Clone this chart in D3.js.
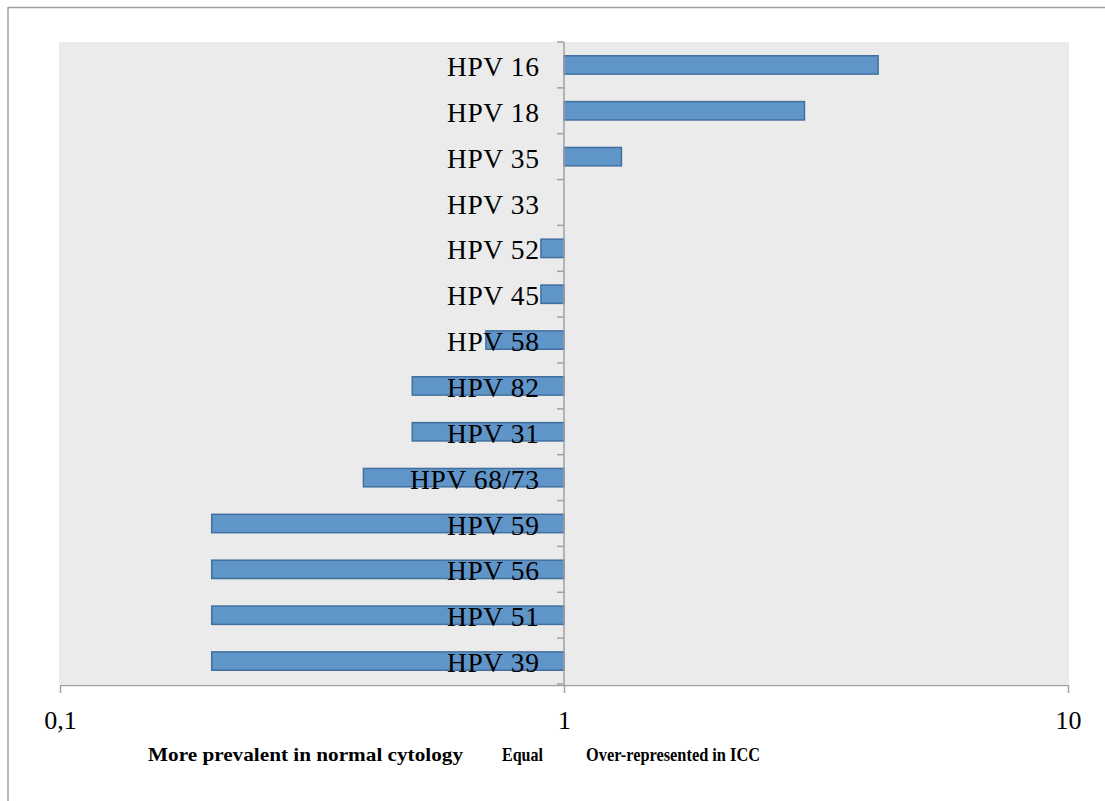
<!DOCTYPE html>
<html><head><meta charset="utf-8">
<script src="https://cdn.jsdelivr.net/npm/d3@7"></script>
<style>body{margin:0;background:#fff;} svg{display:block;}</style>
</head><body>
<script>
const categories = ["HPV 16","HPV 18","HPV 35","HPV 33","HPV 52","HPV 45","HPV 58","HPV 82","HPV 31","HPV 68/73","HPV 59","HPV 56","HPV 51","HPV 39"];
const values = [4.2, 3.0, 1.3, 1.0, 0.9, 0.9, 0.7, 0.5, 0.5, 0.4, 0.2, 0.2, 0.2, 0.2];
const tickValues = [0.1, 1, 10];
const tickLabels = ["0,1", "1", "10"];
const bottomLabels = ["More prevalent in normal cytology", "Equal", "Over-represented in ICC"];

(function () {
const W = 1105, H = 801;
const svg = d3.select("body").append("svg").attr("width", W).attr("height", H);

// outer frame (top and left edges visible)
svg.append("line").attr("x1", 8).attr("x2", W).attr("y1", 7.5).attr("y2", 7.5).attr("stroke", "#a0a0a0").attr("stroke-width", 1.5);
svg.append("line").attr("x1", 8).attr("x2", 8).attr("y1", 7).attr("y2", H).attr("stroke", "#a0a0a0").attr("stroke-width", 1.5);

const pl = 60, pr = 1068, pt = 42, pb = 684;
svg.append("rect").attr("x", 59).attr("y", pt).attr("width", 1069 - 59).attr("height", pb - pt).attr("fill", "#ebebeb");

const x = d3.scaleLog().domain([0.1, 10]).range([pl, pr]);
const y = d3.scaleBand().domain(categories).range([pt, pb]).paddingInner(0.6).paddingOuter(0.3);
const yb = d3.scaleBand().domain(categories).range([pt, pb]);

// bars
svg.append("g").selectAll("rect").data(categories).join("rect")
  .attr("x", (d, i) => Math.min(x(values[i]), x(1)))
  .attr("y", d => y(d))
  .attr("width", (d, i) => Math.abs(x(values[i]) - x(1)))
  .attr("height", y.bandwidth())
  .attr("fill", "#6095c9")
  .attr("stroke", "#41709f")
  .attr("stroke-width", 1.5)
  .attr("display", (d, i) => values[i] === 1 ? "none" : null);

// y axis (category ticks at band boundaries)
const ya = svg.append("g");
ya.append("line").attr("x1", x(1)).attr("x2", x(1)).attr("y1", pt).attr("y2", pb + 1).attr("stroke", "#a0a0a0").attr("stroke-width", 1.5);
const bounds = categories.map(c => yb(c)).concat([pb]);
ya.selectAll("line.t").data(bounds).join("line").attr("class", "t")
  .attr("x1", x(1) - 7).attr("x2", x(1)).attr("y1", d => d).attr("y2", d => d)
  .attr("stroke", "#a0a0a0").attr("stroke-width", 1.5);

// category labels
svg.append("g").selectAll("text").data(categories).join("text")
  .attr("x", 539.5).attr("y", d => yb(d) + yb.bandwidth() / 2 + 11)
  .attr("text-anchor", "end")
  .attr("font-family", "Liberation Serif, serif")
  .attr("font-size", 27.5)
  .attr("letter-spacing", 0.6)
  .attr("fill", "#000")
  .text(d => d);

// x axis
const xa = svg.append("g").attr("transform", `translate(0,${pb + 1})`)
  .call(d3.axisBottom(x).tickValues(tickValues).tickFormat((d, i) => tickLabels[i]).tickSize(8).tickSizeOuter(0));
xa.select(".domain").attr("stroke", "#a0a0a0").attr("stroke-width", 1.5);
xa.selectAll(".tick line").attr("stroke", "#a0a0a0").attr("stroke-width", 1.5);
xa.selectAll(".tick text").attr("font-family", "Liberation Serif, serif").attr("font-size", 26).attr("fill", "#000").attr("dy", 0).attr("y", 44);

// bottom explanatory labels
const bx = [148, 502, 586];
const bw = [315, 41, 174];
svg.append("g").selectAll("text").data(bottomLabels).join("text")
  .attr("x", (d, i) => bx[i]).attr("y", 761)
  .attr("font-family", "Liberation Serif, serif")
  .attr("font-weight", "bold")
  .attr("font-size", 19.5)
  .attr("textLength", (d, i) => bw[i])
  .attr("lengthAdjust", "spacingAndGlyphs")
  .attr("fill", "#000")
  .text(d => d);
})();
</script>
</body></html>
